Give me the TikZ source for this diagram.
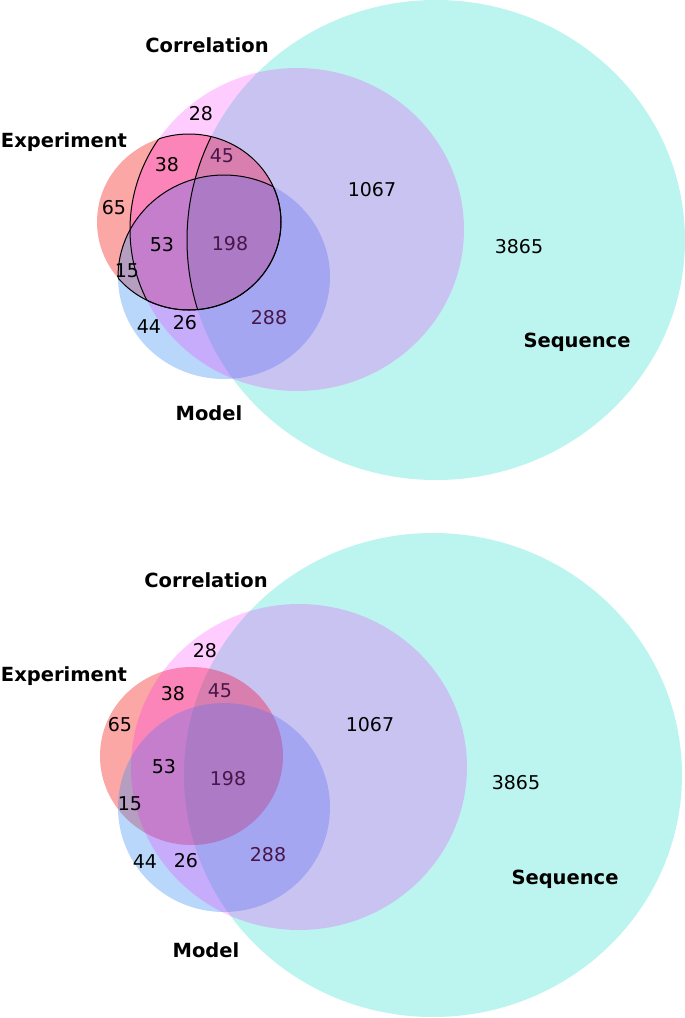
\documentclass[tikz,border=0pt]{standalone}
\usepackage{fontspec}
\setmainfont{DejaVu Sans}
\usepackage{tikz}
\definecolor{seqcol}{RGB}{64,224,208}
\definecolor{corcol}{RGB}{255,0,255}
\definecolor{modcol}{RGB}{55,141,241}
\definecolor{expcol}{RGB}{241,2,0}
\definecolor{numdark}{RGB}{72,22,72}
\tikzset{
  seqset/.style = {fill=seqcol, fill opacity=0.35},
  corset/.style = {fill=corcol, fill opacity=0.2},
  modset/.style = {fill=modcol, fill opacity=0.35},
  expset/.style = {fill=expcol, fill opacity=0.35},
  outln/.style  = {black, line width=1pt},
  numlab/.style = {font=\fontsize{19}{21}\selectfont, inner sep=0pt},
  setlab/.style = {font=\fontsize{19.5}{21}\selectfont\bfseries, inner sep=0pt}
}

\begin{document}
\begin{tikzpicture}[x=1pt,y=-1pt]
  \useasboundingbox (0,0) rectangle (685,1018);
  % ---- upper diagram, regions of Experiment outlined
  \fill[seqset] (436,240) ellipse [x radius=249, y radius=240];
  \fill[expset] (189,222) ellipse [x radius=92, y radius=88];
  \fill[modset] (224,277) ellipse [x radius=106, y radius=102];
  \fill[corset] (297,229.5) ellipse [x radius=167, y radius=161.5];
  \begin{scope}
    \clip (189,222) ellipse [x radius=92, y radius=88];
    \draw[outln] (297,229.5) ellipse [x radius=167, y radius=161.5];
    \draw[outln] (224,277) ellipse [x radius=106, y radius=102];
    \draw[outln] (436,240) ellipse [x radius=249, y radius=240];
  \end{scope}
  \begin{scope}
    \clip (297,229.5) ellipse [x radius=167, y radius=161.5];
    \draw[outln] (189,222) ellipse [x radius=92, y radius=88];
  \end{scope}
  \begin{scope}
    \clip (224,277) ellipse [x radius=106, y radius=102];
    \draw[outln] (189,222) ellipse [x radius=92, y radius=88];
  \end{scope}
  \node[setlab] (corA) at (207,45)  {Correlation};
  \node[setlab] (expA) at (64,142)  {Experiment};
  \node[setlab] (modA) at (209,413) {Model};
  \node[setlab] (seqA) at (577,342) {Sequence};
  \node[numlab] (c28a)   at (201,114) {28};
  \node[numlab] (c38a)   at (167,165) {38};
  \node[numlab,numdark] (c45a) at (222,156) {45};
  \node[numlab] (c65a)   at (114,208) {65};
  \node[numlab] (c53a)   at (162,245) {53};
  \node[numlab,numdark] (c198a) at (230,244) {198};
  \node[numlab] (c15a)   at (127,271) {15};
  \node[numlab] (c44a)   at (149,327) {44};
  \node[numlab] (c26a)   at (185,323) {26};
  \node[numlab,numdark] (c288a) at (269,318) {288};
  \node[numlab] (c1067a) at (372,190) {1067};
  \node[numlab] (c3865a) at (519,247) {3865};
  % ---- lower diagram, plain
  \fill[seqset] (433,775) ellipse [x radius=249, y radius=242];
  \fill[expset] (191.5,756) ellipse [x radius=91.5, y radius=89];
  \fill[modset] (224,807.5) ellipse [x radius=106, y radius=104.5];
  \fill[corset] (299,767) ellipse [x radius=168, y radius=163];
  \node[setlab] (corB) at (206,580) {Correlation};
  \node[setlab] (expB) at (64,676)  {Experiment};
  \node[setlab] (modB) at (206,950) {Model};
  \node[setlab] (seqB) at (565,879) {Sequence};
  \node[numlab] (c28b)   at (205,651) {28};
  \node[numlab] (c38b)   at (173,694) {38};
  \node[numlab,numdark] (c45b) at (220,691) {45};
  \node[numlab] (c65b)   at (120,725) {65};
  \node[numlab] (c53b)   at (164,767) {53};
  \node[numlab,numdark] (c198b) at (228,779) {198};
  \node[numlab] (c15b)   at (130,804) {15};
  \node[numlab] (c44b)   at (145,862) {44};
  \node[numlab] (c26b)   at (186,861) {26};
  \node[numlab,numdark] (c288b) at (268,855) {288};
  \node[numlab] (c1067b) at (370,725) {1067};
  \node[numlab] (c3865b) at (516,783) {3865};
\end{tikzpicture}
\end{document}
